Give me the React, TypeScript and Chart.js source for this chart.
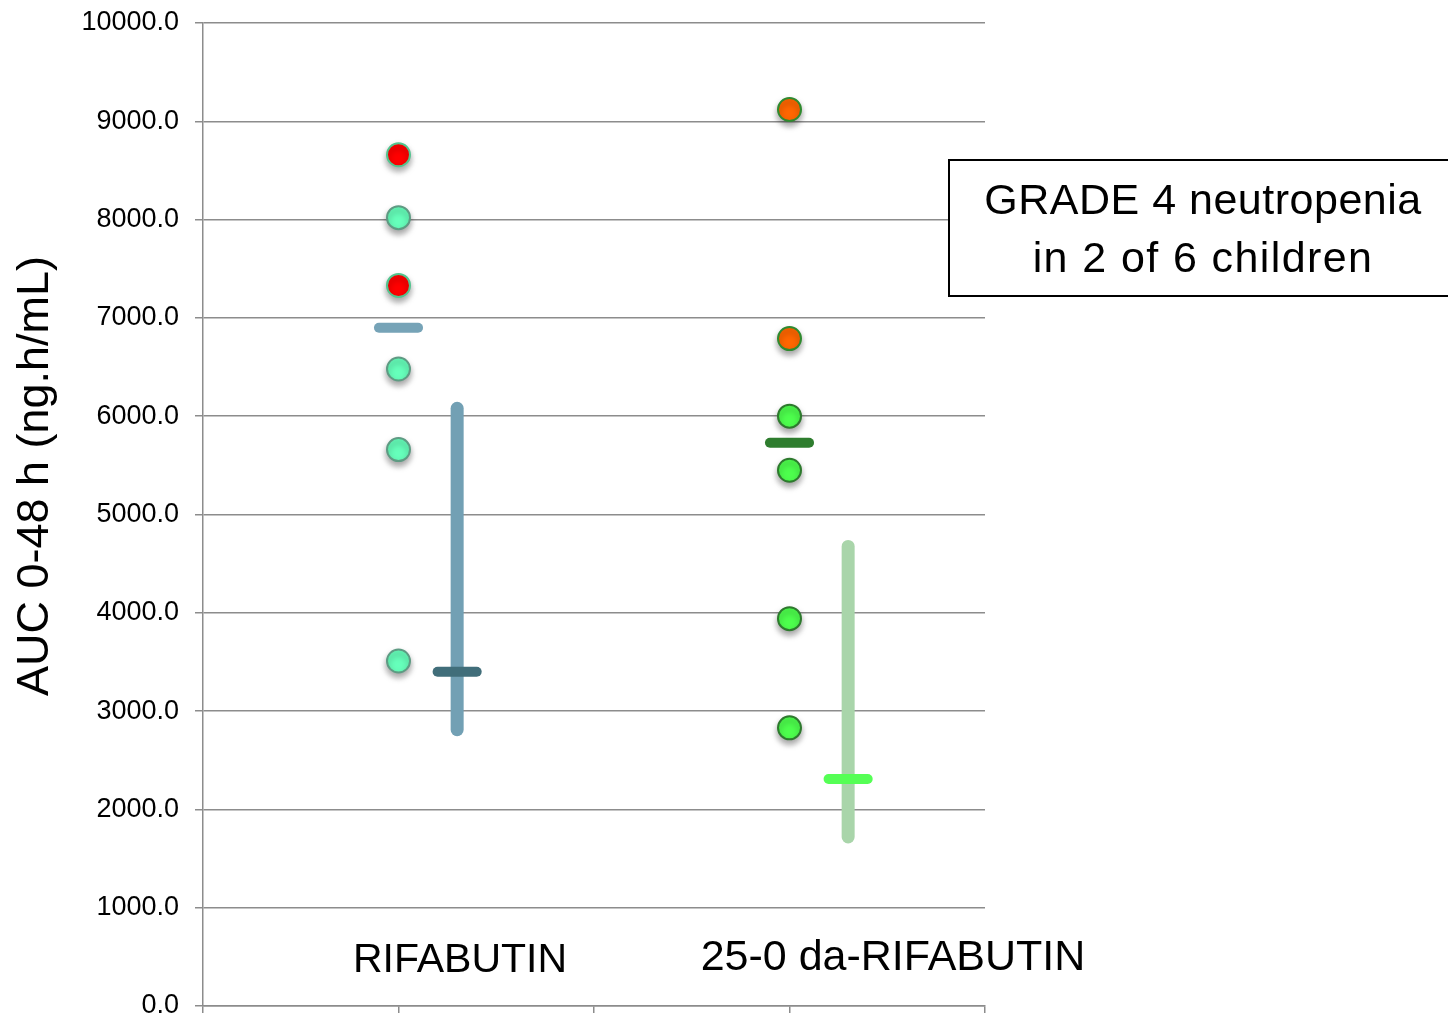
import React, { useEffect, useRef } from "react";
import { Chart, registerables } from "chart.js";

Chart.register(...registerables);

// ---- data ----
const CATEGORY_LABELS = ["RIFABUTIN", "25-0 da-RIFABUTIN"];
const CATEGORY_X = [1, 3];
const SUMMARY_X = [1.3, 3.3];
const Y_MIN = 0;
const Y_MAX = 10000;
const Y_STEP = 1000;

const rifabutinAuc = [8660, 8020, 7330, 6480, 5660, 3510];
const rifabutinGrade4 = [true, false, true, false, false, false];
const rifabutinMean = 6900;
const rifabutinRange = [2810, 6080];
const rifabutinMedian = 3400;

const desacetylAuc = [9120, 6790, 6000, 5450, 3940, 2830];
const desacetylGrade4 = [true, true, false, false, false, false];
const desacetylMean = 5730;
const desacetylRange = [1720, 4675];
const desacetylMedian = 2310;

const NOTE_LINES = ["GRADE 4 neutropenia", "in 2 of 6 children"];
const Y_TITLE = "AUC 0-48 h (ng.h/mL)";

// ---- styles ----
const FONT = "'Liberation Sans', Arial, sans-serif";
const GRID = "#8c8c8c";
const DASH_HALF = 0.1;

const hline = (x: number, y: number) => [
  { x: x - DASH_HALF, y },
  { x: x + DASH_HALF, y },
];
const vline = (x: number, r: number[]) => [
  { x, y: r[0] },
  { x, y: r[1] },
];

export default function App() {
  const ref = useRef<HTMLCanvasElement | null>(null);

  useEffect(() => {
    document.body.style.margin = "0";
    const canvas = ref.current;
    if (!canvas) return;

    const lineDs = (label: string, data: any[], color: string, width: number) => ({
      label,
      data,
      showLine: true,
      borderColor: color,
      backgroundColor: color,
      borderWidth: width,
      borderCapStyle: "round" as const,
      pointRadius: 0,
      pointHoverRadius: 0,
    });

    const pointDs = (label: string, x: number, vals: number[], flags: boolean[], fillFlag: string, borderFlag: string, fill: string, border: string) => ({
      label,
      data: vals.map((v) => ({ x, y: v })),
      showLine: false,
      pointRadius: 11.5,
      pointHoverRadius: 11.5,
      pointBorderWidth: 2,
      pointBackgroundColor: flags.map((f) => (f ? fillFlag : fill)),
      pointBorderColor: flags.map((f) => (f ? borderFlag : border)),
      shadow: true,
    });

    const datasets: any[] = [
      pointDs("RIFABUTIN", CATEGORY_X[0], rifabutinAuc, rifabutinGrade4, "#ff0000", "#52c48e", "#66ffbb", "#5e9b83"),
      pointDs("25-O da-RIFABUTIN", CATEGORY_X[1], desacetylAuc, desacetylGrade4, "#ff6600", "#2f8a2f", "#4dff4d", "#2e7a2e"),
      lineDs("mean1", hline(CATEGORY_X[0], rifabutinMean), "#76a3b7", 10),
      lineDs("mean2", hline(CATEGORY_X[1], desacetylMean), "#2e7d2e", 10),
      lineDs("median1", hline(SUMMARY_X[0], rifabutinMedian), "#416e7a", 10),
      lineDs("median2", hline(SUMMARY_X[1], desacetylMedian), "#55ff55", 10),
      lineDs("range1", vline(SUMMARY_X[0], rifabutinRange), "#72a0b4", 13),
      lineDs("range2", vline(SUMMARY_X[1], desacetylRange), "#a9d5aa", 13),
    ];

    const shadowPlugin = {
      id: "shadow",
      beforeDatasetDraw(chart: any, args: any) {
        const ds = chart.data.datasets[args.index];
        const ctx = chart.ctx;
        ctx.save();
        if (ds.shadow) {
          ctx.shadowColor = "rgba(0,0,0,0.35)";
          ctx.shadowBlur = 6;
          ctx.shadowOffsetY = 4;
          ctx.shadowOffsetX = 0;
        }
      },
      afterDatasetDraw(chart: any) {
        chart.ctx.restore();
      },
    };

    const annotPlugin = {
      id: "annot",
      afterDraw(chart: any) {
        const ctx = chart.ctx;
        ctx.save();
        // category labels
        ctx.fillStyle = "#000";
        ctx.textAlign = "center";
        ctx.textBaseline = "middle";
        ctx.font = `41px ${FONT}`;
        ctx.fillText(CATEGORY_LABELS[0], 460, 961);
        ctx.font = `43px ${FONT}`;
        ctx.fillText(CATEGORY_LABELS[1], 893, 958);

        // y title
        ctx.save();
        ctx.translate(36, 476);
        ctx.rotate(-Math.PI / 2);
        ctx.font = `45px ${FONT}`;
        ctx.fillText(Y_TITLE, 0, 0);
        ctx.restore();

        // note box
        ctx.fillStyle = "#fff";
        ctx.fillRect(949, 160, 520, 136);
        ctx.strokeStyle = "#000";
        ctx.lineWidth = 2;
        ctx.strokeRect(949, 160, 520, 136);
        ctx.fillStyle = "#000";
        ctx.font = `43px ${FONT}`;
        (ctx as any).letterSpacing = "0.5px";
        ctx.fillText(NOTE_LINES[0], 1203, 202);
        (ctx as any).letterSpacing = "1.4px";
        ctx.fillText(NOTE_LINES[1], 1203, 260);
        (ctx as any).letterSpacing = "0px";
        ctx.restore();
      },
    };

    const chart = new Chart(canvas, {
      type: "scatter",
      data: { datasets },
      options: {
        animation: false,
        responsive: false,
        devicePixelRatio: 1,
        layout: { autoPadding: false, padding: { left: 0, top: 23, right: 463, bottom: 0 } },
        plugins: { legend: { display: false }, tooltip: { enabled: false } },
        events: [],
        scales: {
          x: {
            type: "linear",
            min: 0,
            max: 4,
            ticks: { display: false, stepSize: 1 },
            grid: { drawOnChartArea: false, drawTicks: true, tickLength: 7, color: GRID, lineWidth: 1.5 },
            border: { display: true, color: GRID, width: 1.5 },
            afterFit: (s: any) => {
              s.height = 10;
            },
          },
          y: {
            type: "linear",
            min: Y_MIN,
            max: Y_MAX,
            ticks: {
              stepSize: Y_STEP,
              padding: 16,
              color: "#000",
              font: { family: FONT, size: 27, lineHeight: 0.1 },
              callback: (v: any) => Number(v).toFixed(1),
            },
            grid: { color: GRID, lineWidth: 1.5, drawTicks: true, tickLength: 8 },
            border: { display: true, color: GRID, width: 1.5 },
            afterFit: (s: any) => {
              s.width = 203;
              s.paddingTop = 0;
              s.paddingBottom = 0;
            },
          },
        },
      } as any,
      plugins: [shadowPlugin, annotPlugin],
    });

    return () => chart.destroy();
  }, []);

  return (
    <div style={{ width: 1448, height: 1016 }}>
      <canvas ref={ref} width={1448} height={1016} style={{ display: "block" }} />
    </div>
  );
}
